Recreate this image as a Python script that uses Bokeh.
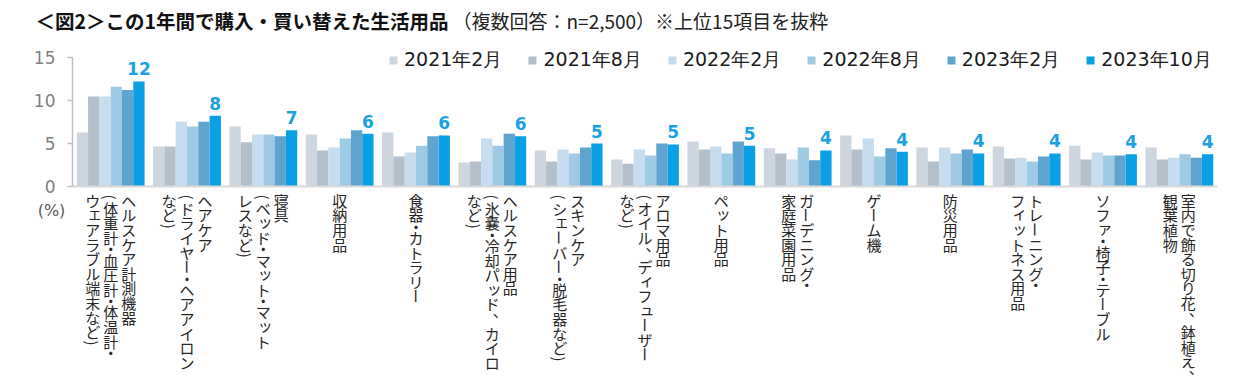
import numpy as np
from bokeh.plotting import figure
from bokeh.models import Range1d, Label, Legend, LegendItem, ColumnDataSource, FixedTicker
from bokeh.core.properties import value
from bokeh.embed import file_html
from bokeh.resources import INLINE

# ---------------- data ----------------
categories = [
    "ヘルスケア計測機器\n（体重計・血圧計・体温計・\nウェアラブル端末など）",
    "ヘアケア\n（ドライヤー・ヘアアイロン\nなど）",
    "寝具\n（ベッド・マット・マット\nレスなど）",
    "収納用品",
    "食器・カトラリー",
    "ヘルスケア用品\n（氷嚢・冷却パッド、カイロ\nなど）",
    "スキンケア\n（シェーバー・脱毛器など）",
    "アロマ用品\n（オイル、ディフューザー\nなど）",
    "ペット用品",
    "ガーデニング・\n家庭菜園用品",
    "ゲーム機",
    "防災用品",
    "トレーニング・\nフィットネス用品",
    "ソファ・椅子・テーブル",
    "室内で飾る切り花、鉢植え、\n観葉植物",
]
periods = ["2021年2月", "2021年8月", "2022年2月", "2022年8月", "2023年2月", "2023年10月"]
v_2021_02 = [6.25, 4.6, 6.95, 6.0, 6.25, 2.75, 4.15, 3.1, 5.2, 4.4, 5.9, 4.5, 4.6, 4.7, 4.5]
v_2021_08 = [10.45, 4.6, 5.1, 4.15, 3.45, 2.85, 2.85, 2.6, 4.25, 3.8, 4.25, 2.85, 3.2, 3.1, 3.1]
v_2022_02 = [10.45, 7.5, 6.0, 4.5, 3.9, 5.55, 4.25, 4.25, 4.6, 3.1, 5.55, 4.5, 3.3, 3.9, 3.3]
v_2022_08 = [11.6, 6.95, 6.0, 5.55, 4.7, 4.7, 3.8, 3.55, 3.8, 4.5, 3.45, 3.8, 2.85, 3.55, 3.7]
v_2023_02 = [11.2, 7.5, 5.8, 6.5, 5.8, 6.1, 4.5, 4.95, 5.2, 3.0, 4.4, 4.25, 3.45, 3.55, 3.3]
v_2023_10 = [12.2, 8.2, 6.5, 6.1, 5.9, 5.8, 4.95, 4.85, 4.7, 4.15, 4.0, 3.8, 3.8, 3.7, 3.7]
series = [v_2021_02, v_2021_08, v_2022_02, v_2022_08, v_2023_02, v_2023_10]
colors = ["#cdd5de", "#b3bfcb", "#c5ddee", "#9fcae3", "#5fa4cf", "#0aa0e6"]
y_ticks = [0, 5, 10, 15]
y_max = 15

# ---------------- layout ----------------
W, H = 1245, 381
n = len(categories)
AX_X, AX_Y0, AX_Y15, AX_XR = 72.0, 185.5, 57.0, 1217.0   # pixel anchors of the plot area
PX = (AX_XR - AX_X) / n
PY = (AX_Y0 - AX_Y15) / y_max
BW = 11.3 / PX

p = figure(width=W, height=H,
           x_range=Range1d(-AX_X / PX, (W - AX_X) / PX),
           y_range=Range1d(-(H - AX_Y0) / PY, AX_Y0 / PY),
           output_backend="svg", toolbar_location=None,
           min_border=0, min_border_left=0, min_border_right=0,
           min_border_top=0, min_border_bottom=0)
p.outline_line_color = None
p.xgrid.visible = False
p.ygrid.visible = False
p.background_fill_color = "white"

ax = p.yaxis[0]
ax.fixed_location = 0
ax.ticker = FixedTicker(ticks=y_ticks)
ax.bounds = (0, y_max)
ax.axis_line_color = "#bfbfbf"
ax.axis_line_width = 1.5
ax.major_tick_line_color = "#bfbfbf"
ax.major_tick_line_width = 1.5
ax.major_tick_out = 5
ax.major_tick_in = 0
ax.minor_tick_line_color = None
ax.major_label_text_font = "DejaVu Sans"
ax.major_label_text_font_size = "17px"
ax.major_label_text_color = "#7f7f7f"
ax.major_label_standoff = 12

xa = p.xaxis[0]
xa.fixed_location = 0
xa.ticker = FixedTicker(ticks=[])
xa.bounds = (0, n)
xa.axis_line_color = "#d9d9d9"
xa.axis_line_width = 2
xa.major_tick_line_color = None
xa.minor_tick_line_color = None

centers = np.arange(n) + 0.5
items = []
for j, (name, vals, col) in enumerate(zip(periods, series, colors)):
    xs = centers + (j - 2.5) * BW
    r = p.vbar(x=xs, top=vals, width=BW, fill_color=col, line_color=None)
    items.append(LegendItem(label=name, renderers=[r]))

last_x = centers + 2.5 * BW
lbls = [str(int(np.floor(v + 0.5))) for v in v_2023_10]
p.text(x=last_x, y=v_2023_10, text=lbls, text_align="center", text_baseline="bottom",
       y_offset=-6, text_font=value("DejaVu Sans"), text_font_style="bold",
       text_font_size="17px", text_color="#1ba1e2")

legend = Legend(items=items, orientation="horizontal", location=(388, H - 73),
                glyph_width=10, glyph_height=10, label_standoff=6, spacing=25,
                padding=0, margin=0, border_line_color=None, background_fill_alpha=0,
                label_text_font="DejaVu Sans", label_text_font_size="19px",
                label_text_color="#1a1a1a", label_height=20)
p.add_layout(legend)

# vertical category labels (drawn character by character)
SMALL = set("ァィゥェォャュョッ")
ADV, ADV_HALF, COL_PITCH, TOP = 14.6, 8.0, 18.0, 7.0
cx, cxo, cyo, ctext, cang = [], [], [], [], []
for i, cat in enumerate(categories):
    lines = cat.split("\n")
    nl = len(lines)
    for c, line in enumerate(lines):
        xo = ((nl - 1) / 2 - c) * COL_PITCH
        pos = TOP
        for ch in line:
            adv = ADV_HALF if ch in "（）・" else ADV
            cy = pos + adv / 2
            dx, dy, ang, t = 0.0, 0.0, 0.0, ch
            if ch == "ー":
                ang = -np.pi / 2
            elif ch == "（":
                t, ang = "(", -np.pi / 2
            elif ch == "）":
                t, ang = ")", -np.pi / 2
            elif ch == "、":
                dx, dy = 8.0, -8.0
            elif ch in SMALL:
                dx, dy = 2.0, -2.0
            cx.append(centers[i])
            cxo.append(xo + dx)
            cyo.append(cy + dy)
            ctext.append(t)
            cang.append(ang)
            pos += adv
src = ColumnDataSource(dict(x=cx, y=[0] * len(cx), xo=cxo, yo=cyo, t=ctext, a=cang))
p.text(x="x", y="y", x_offset="xo", y_offset="yo", text="t", angle="a", source=src,
       text_align="center", text_baseline="middle", text_font=value("Noto Sans CJK JP"),
       text_font_size="15px", text_color="#262626")

# title, subtitle and unit (screen units: frame == whole canvas, y measured upward)
p.add_layout(Label(x=35, y=H - 20, x_units="screen", y_units="screen",
                   text="＜図2＞この1年間で購入・買い替えた生活用品",
                   text_font="Noto Sans CJK JP", text_font_style="bold",
                   text_font_size="19.5px", text_baseline="middle", text_color="#111111"))
p.add_layout(Label(x=452, y=H - 20, x_units="screen", y_units="screen",
                   text="（複数回答：n=2,500）※上位15項目を抜粋",
                   text_font="Noto Sans CJK JP", text_font_size="19px",
                   text_baseline="middle", text_color="#222222"))
p.add_layout(Label(x=51, y=H - 210, x_units="screen", y_units="screen", text="(%)",
                   text_font="DejaVu Sans", text_font_size="16px", text_align="center",
                   text_baseline="middle", text_color="#595959"))

open("out.html", "w").write(file_html(p, INLINE))
